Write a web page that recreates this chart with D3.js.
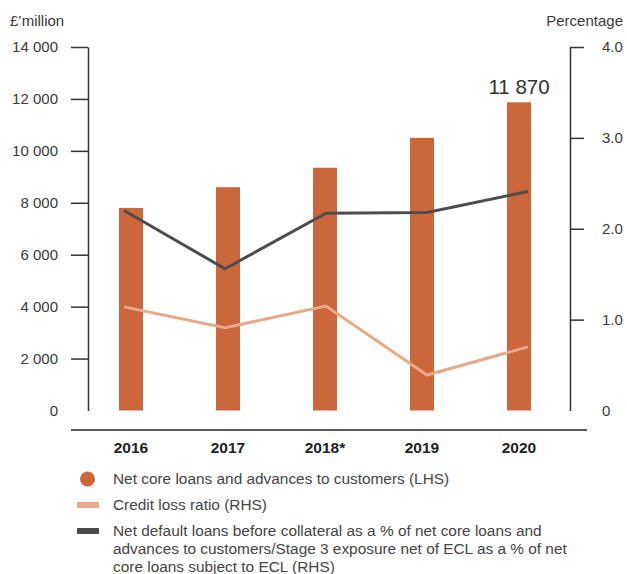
<!DOCTYPE html>
<meta charset="utf-8">
<style>
  body { margin: 0; background: #fff; }
  svg text { font-family: "Liberation Sans", Arial, sans-serif; fill: #3a3a3a; }
  .axis path, .axis line { stroke: #333; stroke-width: 1.5px; }
  .axis text { font-size: 15px; }
  .year { font-size: 15.5px; font-weight: bold; fill: #222; }
  .legend text { font-size: 15.4px; fill: #444; }
</style>
<svg width="627" height="574"></svg>
<script src="https://cdn.jsdelivr.net/npm/d3@7"></script>
<script>
  var years = ["2016", "2017", "2018*", "2019", "2020"];
  var netCoreLoans = [7800, 8600, 9350, 10500, 11870];
  var creditLossRatio = [1.14, 0.91, 1.15, 0.39, 0.70];
  var netDefaultLoans = [2.20, 1.56, 2.17, 2.18, 2.41];
  var leftTicks = [0, 2000, 4000, 6000, 8000, 10000, 12000, 14000];
  var rightTicks = [0, 1, 2, 3, 4];
  var legendLabels = [
    ["Net core loans and advances to customers (LHS)"],
    ["Credit loss ratio (RHS)"],
    ["Net default loans before collateral as a % of net core loans and",
     "advances to customers/Stage 3 exposure net of ECL as a % of net",
     "core loans subject to ECL (RHS)"]
  ];

  var barColor = "#cb673b",
      lightColor = "#e8a98a",
      darkColor = "#4d4d4d";

  var svg = d3.select("svg");

  var yL = d3.scaleLinear().domain([0, 14000]).range([410.5, 47]);
  var yR = d3.scaleLinear().domain([0, 4]).range([410.5, 47]);
  var xBar = d3.scalePoint().domain(years).range([131, 519]);
  var xLine = d3.scalePoint().domain(years).range([124, 528]);
  var barWidth = 24;

  // axes
  var spaceFmt = function(d) { return d3.format(",")(d).replace(/,/g, " "); };
  svg.append("g")
    .attr("class", "axis")
    .attr("transform", "translate(88,0)")
    .call(d3.axisLeft(yL).tickValues(leftTicks).tickSize(17).tickSizeOuter(0).tickPadding(13).tickFormat(spaceFmt));
  var rightAxis = svg.append("g")
    .attr("class", "axis")
    .attr("transform", "translate(570,0)")
    .call(d3.axisRight(yR).tickValues(rightTicks).tickSize(14).tickSizeOuter(0).tickPadding(18)
      .tickFormat(function(d) { return d === 0 ? "0" : d.toFixed(1); }));
  svg.selectAll(".axis .tick").filter(function(d) { return d === 0; }).select("line").remove();
  rightAxis.selectAll(".tick text").attr("x", 32);

  svg.append("text").attr("x", 10).attr("y", 26).style("font-size", "15px").text("£’million");
  svg.append("text").attr("x", 623).attr("y", 26).attr("text-anchor", "end").style("font-size", "15px").text("Percentage");

  // bars
  svg.append("g").selectAll("rect")
    .data(netCoreLoans)
    .enter().append("rect")
    .attr("x", function(d, i) { return xBar(years[i]) - barWidth / 2; })
    .attr("y", function(d) { return yL(d); })
    .attr("width", barWidth)
    .attr("height", function(d) { return yL(0) - yL(d); })
    .attr("fill", barColor);

  svg.append("text")
    .attr("x", xBar(years[4]))
    .attr("y", yL(netCoreLoans[4]) - 8)
    .attr("text-anchor", "middle")
    .style("font-size", "20.5px")
    .style("fill", "#333")
    .text(spaceFmt(netCoreLoans[4]));

  // lines
  var line = function(scale) {
    return d3.line()
      .x(function(d, i) { return xLine(years[i]); })
      .y(function(d) { return scale(d); });
  };
  svg.append("path")
    .datum(creditLossRatio)
    .attr("d", line(yR))
    .attr("fill", "none")
    .attr("stroke", lightColor)
    .attr("stroke-width", 3);
  svg.append("path")
    .datum(netDefaultLoans)
    .attr("d", line(yR))
    .attr("fill", "none")
    .attr("stroke", darkColor)
    .attr("stroke-width", 3);

  // baseline + year labels
  svg.append("line")
    .attr("x1", 71).attr("x2", 587)
    .attr("y1", 430).attr("y2", 430)
    .attr("stroke", "#222").attr("stroke-width", 1.5);
  svg.append("g").selectAll("text")
    .data(years)
    .enter().append("text")
    .attr("class", "year")
    .attr("x", function(d) { return xBar(d); })
    .attr("y", 453)
    .attr("text-anchor", "middle")
    .text(function(d) { return d; });

  // legend
  var legend = svg.append("g").attr("class", "legend");
  var legendY = [479, 505, 531];
  legend.append("circle").attr("cx", 87.5).attr("cy", legendY[0]).attr("r", 7.5).attr("fill", barColor);
  legend.append("rect").attr("x", 77).attr("y", legendY[1] - 3).attr("width", 22).attr("height", 6).attr("fill", lightColor);
  legend.append("rect").attr("x", 77).attr("y", legendY[2] - 3).attr("width", 22).attr("height", 6).attr("fill", darkColor);
  legendLabels.forEach(function(lines, i) {
    var t = legend.append("text").attr("x", 113).attr("y", legendY[i]);
    lines.forEach(function(s, j) {
      t.append("tspan").attr("x", 113).attr("dy", j === 0 ? "0.35em" : "17.8px").text(s);
    });
  });
</script>
